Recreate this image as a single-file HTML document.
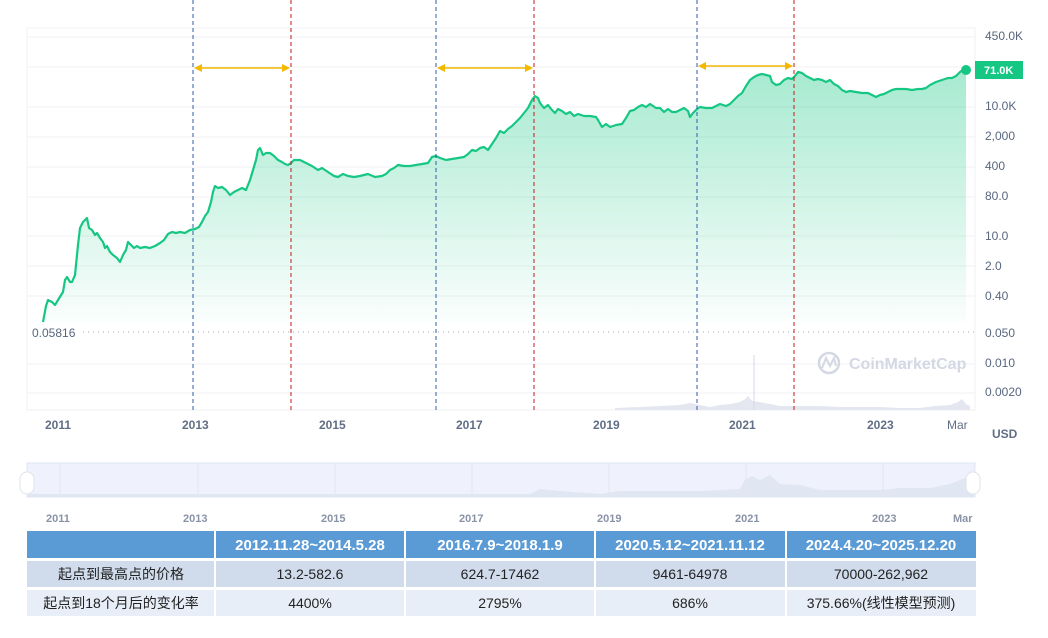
<!DOCTYPE html>
<html><head><meta charset="utf-8"><style>
body{margin:0;background:#fff;width:1048px;height:638px;overflow:hidden;font-family:"Liberation Sans","Noto Sans CJK SC",sans-serif}
</style></head><body>
<svg width="1048" height="638" viewBox="0 0 1048 638" xmlns="http://www.w3.org/2000/svg" style="position:absolute;left:0;top:0">
<defs>
<linearGradient id="g" x1="0" y1="0" x2="0" y2="1"><stop offset="0" stop-color="#16c784" stop-opacity="0.38"/><stop offset="1" stop-color="#16c784" stop-opacity="0.02"/></linearGradient>
</defs>
<rect x="27" y="28" width="948" height="382" fill="#fff" stroke="#f0f1f4"/>
<g stroke="#f1f2f5" stroke-width="1">
<line x1="27" y1="37" x2="975" y2="37"/><line x1="27" y1="67" x2="975" y2="67"/><line x1="27" y1="107" x2="975" y2="107"/><line x1="27" y1="137" x2="975" y2="137"/><line x1="27" y1="167" x2="975" y2="167"/><line x1="27" y1="197" x2="975" y2="197"/><line x1="27" y1="236" x2="975" y2="236"/><line x1="27" y1="266" x2="975" y2="266"/><line x1="27" y1="296" x2="975" y2="296"/><line x1="27" y1="364" x2="975" y2="364"/><line x1="27" y1="393" x2="975" y2="393"/>
</g>
<line x1="83" y1="332" x2="975" y2="332" stroke="#a6acb8" stroke-dasharray="1 4"/>
<path fill="url(#g)" stroke="none" d="M43,322 L46,306 L48,300 L52,302 L55,305 L58,300 L63,292 L65,280 L67,277 L70,282 L72,282 L75,275 L78,245 L80,228 L83,222 L87,218 L89,228 L92,230 L95,235 L97,233 L100,238 L103,242 L105,248 L107,246 L110,252 L113,255 L117,258 L120,262 L123,255 L126,250 L128,242 L131,245 L134,248 L137,246 L140,248 L145,247 L150,248 L155,246 L160,243 L164,240 L168,234 L172,232 L176,233 L180,232 L185,233 L190,230 L195,229 L199,227 L202,222 L205,216 L208,212 L211,202 L213,192 L215,186 L218,188 L222,187 L226,190 L230,195 L234,192 L238,190 L242,188 L246,190 L250,180 L253,170 L256,160 L258,150 L260,148 L263,155 L266,153 L270,153 L274,156 L278,160 L282,162 L285,164 L288,165 L291,163 L294,160 L300,160 L306,163 L312,166 L318,170 L322,168 L328,172 L334,176 L338,177 L343,174 L348,176 L354,177 L360,176 L368,174 L375,177 L382,176 L386,174 L390,170 L394,168 L398,165 L404,166 L410,166 L416,165 L422,164 L428,163 L432,157 L436,156 L440,158 L446,160 L452,159 L458,158 L464,157 L468,154 L472,150 L476,151 L480,148 L484,147 L488,150 L492,144 L496,138 L500,131 L504,133 L508,129 L512,126 L516,122 L520,118 L524,113 L528,108 L532,100 L535,96 L538,98 L540,103 L544,108 L548,105 L552,110 L555,113 L558,109 L562,111 L566,114 L570,112 L574,116 L578,114 L584,116 L590,116 L596,117 L598,120 L602,127 L606,124 L610,127 L616,125 L622,124 L626,118 L630,111 L634,110 L638,107 L642,105 L646,107 L650,104 L656,108 L660,108 L664,112 L668,109 L672,112 L676,112 L680,110 L684,108 L688,111 L690,117 L693,113 L697,109 L700,107 L706,108 L712,108 L716,106 L720,104 L726,106 L730,104 L734,100 L738,96 L742,93 L746,86 L750,80 L754,77 L758,75 L762,74 L766,75 L770,76 L772,82 L776,85 L780,84 L784,80 L788,78 L792,79 L795,76 L798,72 L802,73 L806,76 L810,78 L814,80 L818,79 L822,80 L826,82 L830,80 L834,84 L838,86 L842,90 L846,92 L850,91 L856,92 L862,93 L868,93 L872,95 L876,97 L880,95 L884,94 L888,92 L892,90 L896,89 L900,89 L906,89 L912,90 L918,89 L922,89 L926,88 L930,85 L936,82 L942,80 L948,78 L952,78 L956,76 L960,72 L964,69 L966,70 L966,322 Z"/>
<polyline fill="none" stroke="#16c784" stroke-width="2.2" stroke-linejoin="round" points="43,322 46,306 48,300 52,302 55,305 58,300 63,292 65,280 67,277 70,282 72,282 75,275 78,245 80,228 83,222 87,218 89,228 92,230 95,235 97,233 100,238 103,242 105,248 107,246 110,252 113,255 117,258 120,262 123,255 126,250 128,242 131,245 134,248 137,246 140,248 145,247 150,248 155,246 160,243 164,240 168,234 172,232 176,233 180,232 185,233 190,230 195,229 199,227 202,222 205,216 208,212 211,202 213,192 215,186 218,188 222,187 226,190 230,195 234,192 238,190 242,188 246,190 250,180 253,170 256,160 258,150 260,148 263,155 266,153 270,153 274,156 278,160 282,162 285,164 288,165 291,163 294,160 300,160 306,163 312,166 318,170 322,168 328,172 334,176 338,177 343,174 348,176 354,177 360,176 368,174 375,177 382,176 386,174 390,170 394,168 398,165 404,166 410,166 416,165 422,164 428,163 432,157 436,156 440,158 446,160 452,159 458,158 464,157 468,154 472,150 476,151 480,148 484,147 488,150 492,144 496,138 500,131 504,133 508,129 512,126 516,122 520,118 524,113 528,108 532,100 535,96 538,98 540,103 544,108 548,105 552,110 555,113 558,109 562,111 566,114 570,112 574,116 578,114 584,116 590,116 596,117 598,120 602,127 606,124 610,127 616,125 622,124 626,118 630,111 634,110 638,107 642,105 646,107 650,104 656,108 660,108 664,112 668,109 672,112 676,112 680,110 684,108 688,111 690,117 693,113 697,109 700,107 706,108 712,108 716,106 720,104 726,106 730,104 734,100 738,96 742,93 746,86 750,80 754,77 758,75 762,74 766,75 770,76 772,82 776,85 780,84 784,80 788,78 792,79 795,76 798,72 802,73 806,76 810,78 814,80 818,79 822,80 826,82 830,80 834,84 838,86 842,90 846,92 850,91 856,92 862,93 868,93 872,95 876,97 880,95 884,94 888,92 892,90 896,89 900,89 906,89 912,90 918,89 922,89 926,88 930,85 936,82 942,80 948,78 952,78 956,76 960,72 964,69 966,70"/>
<circle cx="966" cy="70" r="5" fill="#16c784"/>
<path fill="#e4e7ef" d="M615,410 L615,408 L640,407 L660,406 L680,405 L690,403 L700,405 L710,407 L720,405 L730,404 L740,402 L745,399 L748,396 L752,401 L760,402 L770,404 L780,406 L800,406 L820,406 L840,407 L860,407 L880,407 L900,408 L920,408 L935,406 L950,405 L958,402 L962,399 L966,404 L970,406 L970,410 Z"/>
<line x1="754" y1="355" x2="754" y2="410" stroke="#d3d8e4" stroke-width="1"/>
<g fill="none" stroke="#d4d8e3" stroke-width="2.5"><circle cx="829" cy="363" r="10"/></g>
<path d="M822,368 L826,358 L830,366 L834,358 L836,366" fill="none" stroke="#d4d8e3" stroke-width="2"/>
<text x="849" y="369" font-size="16" font-weight="bold" fill="#d4d8e3">CoinMarketCap</text>
<g stroke-width="1" stroke-dasharray="4 3">
<line x1="193" y1="0" x2="193" y2="410" stroke="#2f5ea8"/><line x1="291" y1="0" x2="291" y2="410" stroke="#c81818"/>
<line x1="436" y1="0" x2="436" y2="410" stroke="#2f5ea8"/><line x1="534" y1="0" x2="534" y2="410" stroke="#c81818"/>
<line x1="697" y1="0" x2="697" y2="410" stroke="#2f5ea8"/><line x1="794" y1="0" x2="794" y2="410" stroke="#c81818"/>
</g>
<g stroke="#f3b800" stroke-width="1.5" fill="#f3b800">
<line x1="196" y1="68" x2="288" y2="68"/><path d="M194,68 L202,64 L202,72Z M290,68 L282,64 L282,72Z" stroke="none"/>
<line x1="439" y1="68" x2="531" y2="68"/><path d="M437,68 L445,64 L445,72Z M533,68 L525,64 L525,72Z" stroke="none"/>
<line x1="700" y1="66" x2="791" y2="66"/><path d="M698,66 L706,62 L706,70Z M793,66 L785,62 L785,70Z" stroke="none"/>
</g>
<text x="32" y="337" font-size="12" fill="#58667e">0.05816</text>
<g font-size="12" fill="#58667e">
<text x="985" y="40">450.0K</text><text x="985" y="110">10.0K</text><text x="985" y="140">2,000</text><text x="985" y="170">400</text><text x="985" y="200">80.0</text><text x="985" y="240">10.0</text><text x="985" y="270">2.0</text><text x="985" y="300">0.40</text><text x="985" y="337">0.050</text><text x="985" y="367">0.010</text><text x="985" y="396">0.0020</text>
</g>
<rect x="975" y="61" width="48" height="18" fill="#16c784"/>
<text x="984" y="74" font-size="11" font-weight="bold" fill="#fff">71.0K</text>
<g font-size="12" font-weight="bold" fill="#616e85">
<text x="45" y="429">2011</text><text x="182" y="429">2013</text><text x="319" y="429">2015</text><text x="456" y="429">2017</text><text x="593" y="429">2019</text><text x="729" y="429">2021</text><text x="867" y="429">2023</text><text x="947" y="429" font-weight="normal">Mar</text>
<text x="992" y="438">USD</text>
</g>
<rect x="27" y="463" width="948" height="34" fill="#eff2fc" stroke="#dfe4f3"/>
<path d="M28,497 L28,494 L300,494 L530,494 L540,489 L560,491 L600,494 L620,491 L700,491 L740,489 L745,480 L752,476 L760,480 L770,475 L780,484 L800,485 L820,490 L840,490 L860,490 L880,490 L900,488 L930,488 L950,484 L965,478 L974,484 L974,497Z" fill="#e1e6f3"/>
<g stroke="#e3e7f2"><line x1="60" y1="463" x2="60" y2="497"/><line x1="198" y1="463" x2="198" y2="497"/><line x1="335" y1="463" x2="335" y2="497"/><line x1="472" y1="463" x2="472" y2="497"/><line x1="609" y1="463" x2="609" y2="497"/><line x1="746" y1="463" x2="746" y2="497"/><line x1="883" y1="463" x2="883" y2="497"/></g>
<rect x="20" y="472" width="14" height="22" rx="7" fill="#fff" stroke="#e0e3ea"/><rect x="966" y="472" width="14" height="22" rx="7" fill="#fff" stroke="#e0e3ea"/>
<g font-size="11" font-weight="bold" fill="#8a93a6">
<text x="46" y="522">2011</text><text x="183" y="522">2013</text><text x="321" y="522">2015</text><text x="459" y="522">2017</text><text x="597" y="522">2019</text><text x="735" y="522">2021</text><text x="872" y="522">2023</text><text x="953" y="522">Mar</text>
</g>
<rect x="27" y="531" width="949" height="27" fill="#5b9bd5"/>
<rect x="27" y="561" width="949" height="26" fill="#d0dcec"/>
<rect x="27" y="590" width="949" height="26" fill="#e8eef7"/>
<g stroke="#fff" stroke-width="2"><line x1="215" y1="531" x2="215" y2="616"/><line x1="405" y1="531" x2="405" y2="616"/><line x1="595" y1="531" x2="595" y2="616"/><line x1="786" y1="531" x2="786" y2="616"/><line x1="27" y1="559.5" x2="976" y2="559.5"/><line x1="27" y1="588.5" x2="976" y2="588.5"/></g>
<g font-size="15" font-weight="bold" fill="#fff" text-anchor="middle">
<text x="310" y="550">2012.11.28~2014.5.28</text><text x="500" y="550">2016.7.9~2018.1.9</text><text x="690" y="550">2020.5.12~2021.11.12</text><text x="881" y="550">2024.4.20~2025.12.20</text>
</g>
<g font-size="14" fill="#222" text-anchor="middle">
<text x="121" y="579">起点到最高点的价格</text><text x="310" y="579">13.2-582.6</text><text x="500" y="579">624.7-17462</text><text x="690" y="579">9461-64978</text><text x="881" y="579">70000-262,962</text>
<text x="121" y="608">起点到18个月后的变化率</text><text x="310" y="608">4400%</text><text x="500" y="608">2795%</text><text x="690" y="608">686%</text><text x="881" y="608">375.66%(线性模型预测)</text>
</g>
</svg>
</body></html>
